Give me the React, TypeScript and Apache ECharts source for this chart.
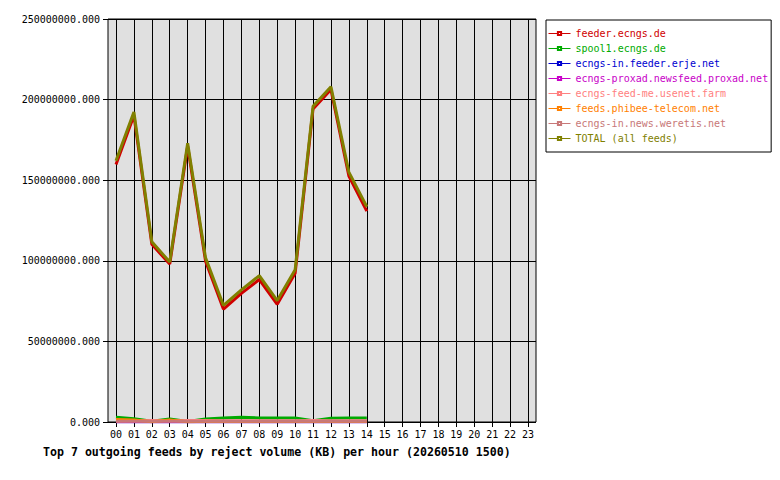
import React, { useEffect, useRef } from 'react';
import * as echarts from 'echarts';

// hours on the x axis
const hours = ['00', '01', '02', '03', '04', '05', '06', '07', '08', '09', '10', '11',
  '12', '13', '14', '15', '16', '17', '18', '19', '20', '21', '22', '23'];

const yTicks = [0, 50000000, 100000000, 150000000, 200000000, 250000000];

// reject volume (KB) per hour; hours 15..23 have no data yet
const feederEcngs = [159800000, 190200000, 110200000, 98000000, 171000000, 99800000, 70000000,
  79800000, 88400000, 73000000, 92200000, 194200000, 206200000, 152600000, 130800000];
const spool1Ecngs = [3000000, 2000000, 500000, 1800000, 300000, 1800000, 2500000, 3000000,
  2500000, 2500000, 2500000, 800000, 2300000, 2500000, 2500000];
const ecngsInErje = [100000, 100000, 100000, 100000, 100000, 100000, 100000, 100000,
  100000, 100000, 100000, 100000, 100000, 100000, 100000];
const proxad = [100000, 100000, 100000, 100000, 100000, 100000, 100000, 100000,
  100000, 100000, 100000, 100000, 100000, 100000, 100000];
const feedMe = [600000, 800000, 1000000, 800000, 1000000, 900000, 800000, 800000,
  800000, 800000, 800000, 1000000, 800000, 800000, 800000];
const phibee = [1500000, 1200000, 200000, 1200000, 200000, 400000, 300000, 300000,
  300000, 300000, 300000, 300000, 300000, 300000, 300000];
const weretis = [400000, 400000, 400000, 400000, 400000, 400000, 400000, 400000,
  400000, 400000, 400000, 400000, 400000, 400000, 400000];
const total = [162000000, 192300000, 111800000, 99200000, 173000000, 101800000, 72300000,
  82000000, 90800000, 75300000, 94500000, 195800000, 208000000, 155000000, 133500000];

const feeds = [
  { name: 'feeder.ecngs.de', color: '#d00000', data: feederEcngs },
  { name: 'spool1.ecngs.de', color: '#00aa00', data: spool1Ecngs },
  { name: 'ecngs-in.feeder.erje.net', color: '#0000d0', data: ecngsInErje },
  { name: 'ecngs-proxad.newsfeed.proxad.net', color: '#c800c8', data: proxad },
  { name: 'ecngs-feed-me.usenet.farm', color: '#ff8080', data: feedMe },
  { name: 'feeds.phibee-telecom.net', color: '#ff8000', data: phibee },
  { name: 'ecngs-in.news.weretis.net', color: '#c87878', data: weretis },
  { name: 'TOTAL (all feeds)', color: '#808000', data: total },
];

const MONO = '"DejaVu Sans Mono", monospace';

const App: React.FC = () => {
  const chartRef = useRef<HTMLDivElement>(null);

  useEffect(() => {
    document.body.style.margin = '0';
    const myChart = echarts.init(chartRef.current!, null, { renderer: 'svg' });

    const option = {
      animation: false,
      backgroundColor: '#ffffff',
      title: {
        text: 'Top 7 outgoing feeds by reject volume (KB) per hour (20260510 1500)',
        left: 43,
        top: 446,
        padding: 0,
        textStyle: { fontFamily: MONO, fontSize: 11.6, fontWeight: 'bold', color: '#000' },
      },
      legend: {
        orient: 'vertical',
        left: 546,
        top: 20,
        padding: [6, 3, 6, 2],
        itemGap: 0,
        itemWidth: 22,
        itemHeight: 4,
        borderColor: '#000',
        borderWidth: 1,
        backgroundColor: '#fff',
        lineStyle: { width: 1 },
        textStyle: { fontFamily: MONO, fontSize: 10, lineHeight: 15 },
        data: feeds.map((f) => ({ name: f.name, textStyle: { color: f.color } })),
      },
      grid: [
        // outer plot frame with horizontal lines
        {
          left: 108, right: 244, top: 19, bottom: 58,
          show: true, backgroundColor: '#e0e0e0', borderColor: '#000', borderWidth: 1,
        },
        // inner grid where the hours sit
        { left: 116, right: 252, top: 19, bottom: 58 },
      ],
      xAxis: [
        { gridIndex: 0, type: 'value', min: 0, max: 1, show: false },
        {
          gridIndex: 1,
          type: 'category',
          boundaryGap: false,
          data: hours,
          axisLine: { show: false },
          axisTick: { show: true, length: 5, lineStyle: { color: '#000' } },
          axisLabel: { margin: 7, fontFamily: MONO, fontSize: 10, color: '#000', interval: 0 },
          splitLine: { show: true, lineStyle: { color: '#000', width: 1 } },
        },
      ],
      yAxis: [
        {
          gridIndex: 0,
          type: 'value',
          min: yTicks[0],
          max: yTicks[yTicks.length - 1],
          interval: yTicks[1] - yTicks[0],
          axisLine: { show: false },
          axisTick: { show: true, length: 5, lineStyle: { color: '#000' } },
          axisLabel: {
            margin: 8, fontFamily: MONO, fontSize: 10, color: '#000',
            formatter: (v: number) => v.toFixed(3),
          },
          splitLine: { show: true, lineStyle: { color: '#000', width: 1 } },
        },
        {
          gridIndex: 1,
          type: 'value',
          min: yTicks[0],
          max: yTicks[yTicks.length - 1],
          interval: yTicks[1] - yTicks[0],
          show: false,
          splitLine: { show: false },
        },
      ],
      series: feeds.map((f) => ({
        name: f.name,
        type: 'line',
        xAxisIndex: 1,
        yAxisIndex: 1,
        data: f.data,
        symbol: 'emptyRect',
        symbolSize: 4,
        showSymbol: false,
        color: f.color,
        lineStyle: { width: 3, color: f.color },
      })),
    };

    myChart.setOption(option);

    return () => {
      myChart.dispose();
    };
  }, []);

  return <div ref={chartRef} style={{ width: '780px', height: '480px' }} />;
};

export default App;
